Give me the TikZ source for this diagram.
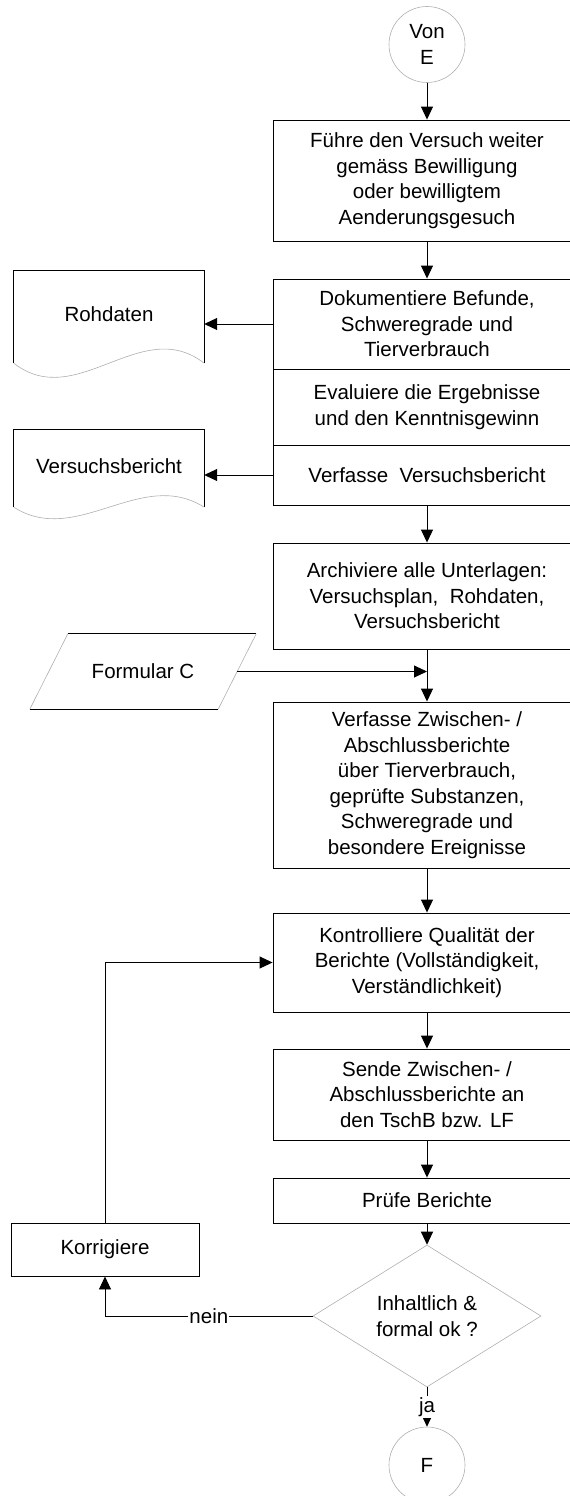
\documentclass[tikz,border=0pt]{standalone}
\usepackage{fontspec}
\setmainfont{Liberation Sans}
\usetikzlibrary{arrows.meta,shapes.geometric,calc}
\definecolor{lgray}{RGB}{175,175,175}
\begin{document}
\begin{tikzpicture}[x=1pt,y=-1pt,
  every node/.style={font=\fontsize{20.5}{25.5}\selectfont},
  proc/.style={draw=black, line width=0.9pt, minimum width=308, align=center, inner sep=0},
  conn/.style={circle, draw=lgray, line width=0.6pt, minimum size=76, inner sep=0, align=center},
  arr/.style={-{Triangle[length=13pt,width=12pt]}, line width=0.9pt},
  plain/.style={line width=0.9pt},
  thin/.style={draw=lgray, line width=0.6pt},
  docbody/.style={minimum width=190, inner sep=0, align=center},
  lbl/.style={fill=white, inner sep=1pt}]
\useasboundingbox (0,0) rectangle (570,1496);
\clip (0,0) rectangle (570,1496);

% main column
\node[conn] (vone) at (427,44.5) {Von\\E};
\node[proc, minimum height=121] (b1) at (427,180.5) {Führe den Versuch weiter\\gemäss Bewilligung\\oder bewilligtem\\Aenderungsgesuch};
\node[proc, minimum height=90] (b2) at (427,324) {Dokumentiere Befunde,\\Schweregrade und\\Tierverbrauch};
\node[proc, minimum height=76] (b3) at (427,407) {Evaluiere die Ergebnisse\\und den Kenntnisgewinn};
\node[proc, minimum height=60] (b4) at (427,475) {Verfasse\ \ Versuchsbericht};
\node[proc, minimum height=106] (b5) at (427,596) {Archiviere alle Unterlagen:\\Versuchsplan,\ \ Rohdaten,\\Versuchsbericht};
\node[proc, minimum height=166] (b6) at (427,785) {Verfasse Zwischen- /\\Abschlussberichte\\über Tierverbrauch,\\geprüfte Substanzen,\\Schweregrade und\\besondere Ereignisse};
\node[proc, minimum height=99] (b7) at (427,962.5) {Kontrolliere Qualität der\\Berichte (Vollständigkeit,\\Verständlichkeit)};
\node[proc, minimum height=91] (b8) at (427,1094.5) {Sende Zwischen- /\\Abschlussberichte an\\den TschB bzw. LF};
\node[proc, minimum height=45] (b9) at (427,1200.5) {Prüfe Berichte};
\node[diamond, draw=lgray, line width=0.6pt, minimum width=228, minimum height=118, inner sep=0, align=center] (dec) at (427,1316) {Inhaltlich \&\\formal ok ?};
\node[conn] (fend) at (427,1465) {F};

% side shapes
\node[draw=black, line width=0.9pt, minimum width=188, minimum height=53, inner sep=0] (kor) at (105,1249.5) {Korrigiere};

\node[docbody, minimum height=92] (roh) at (109,317) {\raisebox{5pt}{Rohdaten}};
\draw[plain] (roh.south west) -- (roh.north west) -- (roh.north east) -- (roh.south east);
\draw[thin] (roh.south west) .. controls +(63,49) and +(-63,-49) .. (roh.south east);

\node[docbody, minimum height=77] (vb) at (109,468.5) {\raisebox{5pt}{Versuchsbericht}};
\draw[plain] (vb.south west) -- (vb.north west) -- (vb.north east) -- (vb.south east);
\draw[thin] (vb.south west) .. controls +(63,40) and +(-63,-40) .. (vb.south east);

\node[minimum width=226, minimum height=75, inner sep=0] (form) at (143,671.5) {Formular C};
\draw[plain] ($(form.north west)+(38,0)$) -- (form.north east);
\draw[plain] (form.south west) -- ($(form.south east)+(-38,0)$);
\draw[thin] ($(form.north west)+(38,0)$) -- (form.south west);
\draw[thin] (form.north east) -- ($(form.south east)+(-38,0)$);

% connectors
\draw[arr] (vone) -- (b1);
\draw[arr] (b1) -- (b2);
\draw[arr] (b2.west) -- (b2.west -| roh.east);
\draw[arr] (b4.west) -- (b4.west -| vb.east);
\draw[arr] (b4) -- (b5);
\draw[arr] (b5) -- (b6);
\draw[arr] ($(form.east)+(-19,0)$) -- (form.east -| b5.south);
\draw[arr] (b6) -- (b7);
\draw[arr] (b7) -- (b8);
\draw[arr] (b8) -- (b9);
\draw[arr] (b9) -- (dec);
\draw[arr] (dec.south) -- node[lbl] {ja} (fend.north);
\draw[arr] (dec.west) -| node[lbl, pos=0.25] {nein} (kor.south);
\draw[arr] (kor.north) |- (b7.west);
\end{tikzpicture}
\end{document}
